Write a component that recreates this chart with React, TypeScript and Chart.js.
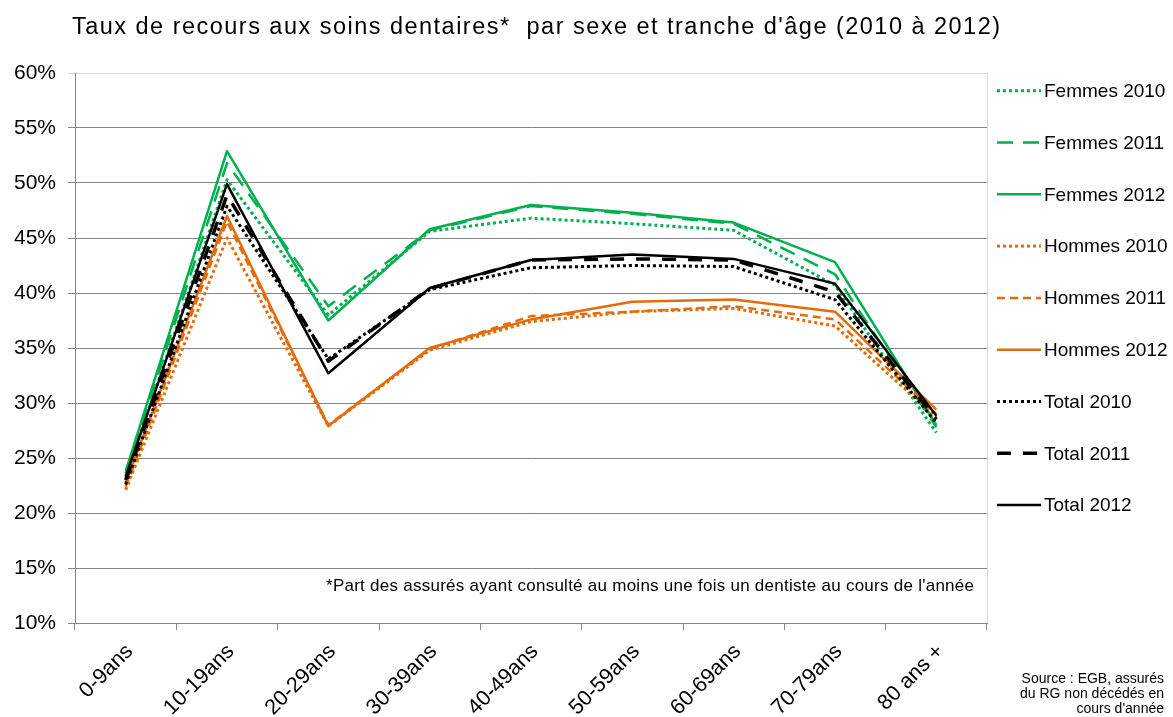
import React, { useEffect, useRef } from 'react';
import { Chart, registerables } from 'chart.js';

Chart.register(...registerables);

const categories = ['0-9ans', '10-19ans', '20-29ans', '30-39ans', '40-49ans', '50-59ans', '60-69ans', '70-79ans', '80 ans +'];

const femmes2010 = [23.3, 50.3, 38.0, 45.6, 46.8, 46.3, 45.7, 40.7, 27.3];
const femmes2011 = [23.6, 51.8, 38.8, 45.7, 47.9, 47.2, 46.3, 41.7, 27.8];
const femmes2012 = [23.8, 52.9, 37.5, 45.8, 48.0, 47.3, 46.4, 42.8, 28.0];
const hommes2010 = [22.1, 45.0, 27.9, 34.8, 37.4, 38.3, 38.6, 37.0, 28.7];
const hommes2011 = [22.4, 46.5, 28.0, 34.9, 37.9, 38.3, 38.8, 37.6, 29.0];
const hommes2012 = [22.8, 47.0, 27.9, 35.0, 37.6, 39.2, 39.4, 38.3, 29.4];
const total2010 = [22.6, 47.9, 34.0, 40.3, 42.3, 42.5, 42.4, 39.4, 28.2];
const total2011 = [23.0, 48.9, 33.8, 40.4, 43.0, 43.1, 43.0, 40.1, 28.5];
const total2012 = [23.3, 49.9, 32.7, 40.45, 43.0, 43.5, 43.1, 40.85, 28.85];

const seriesLabels = ['Femmes 2010', 'Femmes 2011', 'Femmes 2012', 'Hommes 2010', 'Hommes 2011', 'Hommes 2012', 'Total 2010', 'Total 2011', 'Total 2012'];

const titleText = "Taux de recours aux soins dentaires*  par sexe et tranche d'âge (2010 à 2012)";
const footnoteText = "*Part des assurés ayant consulté au moins une fois un dentiste au cours de l'année";
const sourceLines = ['Source : EGB, assurés', 'du RG non décédés en', "cours d'année"];

const GREEN = '#00b050';
const ORANGE = '#e46c0a';
const BLACK = '#000000';
const FONT = '"Liberation Sans", Arial, sans-serif';

const styles = [
  { color: GREEN, dash: [3, 3], width: 3 },
  { color: GREEN, dash: [16, 10], width: 2.5 },
  { color: GREEN, dash: [], width: 2.5 },
  { color: ORANGE, dash: [3, 3], width: 3 },
  { color: ORANGE, dash: [8, 5], width: 2.5 },
  { color: ORANGE, dash: [], width: 2.5 },
  { color: BLACK, dash: [3, 3], width: 3 },
  { color: BLACK, dash: [14, 12], width: 3.5 },
  { color: BLACK, dash: [], width: 2.5 },
];

const seriesData = [femmes2010, femmes2011, femmes2012, hommes2010, hommes2011, hommes2012, total2010, total2011, total2012];

function fitText(ctx: any, text: string, x0: number, x1: number, y: number) {
  ctx.letterSpacing = '0px';
  const w = ctx.measureText(text).width;
  const n = Array.from(text).length;
  const sp = Math.max(0, (x1 - x0 - w) / (n - 1));
  ctx.letterSpacing = `${sp}px`;
  ctx.textAlign = 'left';
  ctx.fillText(text, x0, y);
  ctx.letterSpacing = '0px';
}

const decorPlugin = {
  id: 'decor',
  afterDraw(chart: any) {
    const ctx = chart.ctx;
    const ca = chart.chartArea;
    ctx.save();
    // right border
    ctx.strokeStyle = '#d9d9d9';
    ctx.lineWidth = 1;
    ctx.beginPath();
    ctx.moveTo(Math.round(ca.right) + 0.5, ca.top);
    ctx.lineTo(Math.round(ca.right) + 0.5, ca.bottom);
    ctx.stroke();

    // title
    ctx.fillStyle = '#000';
    ctx.font = `23.5px ${FONT}`;
    ctx.textBaseline = 'alphabetic';
    fitText(ctx, titleText, 72, 1000, 34);

    // footnote
    ctx.font = `17px ${FONT}`;
    fitText(ctx, footnoteText, 326, 974, 591);

    // source
    ctx.font = `14px "Liberation Sans Narrow", ${FONT}`;
    ctx.textAlign = 'right';
    ctx.textBaseline = 'middle';
    sourceLines.forEach((l, i) => ctx.fillText(l, 1164, 679 + i * 15));

    // legend
    ctx.font = `19px ${FONT}`;
    ctx.textAlign = 'left';
    ctx.textBaseline = 'middle';
    seriesLabels.forEach((lab, i) => {
      const y = 90.7 + i * 51.8;
      const st = styles[i];
      ctx.strokeStyle = st.color;
      ctx.lineWidth = st.width;
      ctx.setLineDash(st.dash);
      ctx.beginPath();
      ctx.moveTo(997, y);
      ctx.lineTo(1041, y);
      ctx.stroke();
      ctx.setLineDash([]);
      ctx.fillStyle = '#000';
      ctx.fillText(lab, 1044, y + 1);
    });
    ctx.restore();
  },
};

export default function App() {
  const ref = useRef<HTMLCanvasElement>(null);
  useEffect(() => {
    if (!ref.current) return;
    const chart = new Chart(ref.current, {
      type: 'line',
      data: {
        labels: categories,
        datasets: seriesData.map((d, i) => ({
          label: seriesLabels[i],
          data: d,
          borderColor: styles[i].color,
          backgroundColor: styles[i].color,
          borderWidth: styles[i].width,
          borderDash: styles[i].dash,
          borderJoinStyle: 'round',
          pointRadius: 0,
          tension: 0,
          fill: false,
          order: 9 - i,
        })),
      },
      options: {
        responsive: false,
        animation: false,
        devicePixelRatio: 1,
        layout: { padding: { top: 73, right: 186, left: 0, bottom: 0 } },
        plugins: {
          legend: { display: false },
          title: { display: false },
          tooltip: { enabled: false },
        },
        scales: {
          x: {
            type: 'category',
            offset: true,
            afterFit: (s: any) => { s.height = 94; },
            grid: {
              offset: true,
              drawOnChartArea: false,
              drawTicks: true,
              tickLength: 7,
              color: '#868686',
            },
            border: { color: '#868686', width: 1 },
            ticks: {
              minRotation: 45,
              maxRotation: 45,
              autoSkip: false,
              color: '#000',
              padding: 9,
              labelOffset: 4,
              font: { family: FONT, size: 21.5 },
            },
          },
          y: {
            min: 10,
            max: 60,
            afterFit: (s: any) => { s.width = 75; },
            ticks: {
              stepSize: 5,
              color: '#000',
              padding: 12,
              font: { family: FONT, size: 21 },
              callback: (v: any) => `${v}%`,
            },
            grid: {
              color: (c: any) => (c.tick && c.tick.value === 60 ? '#d9d9d9' : '#868686'),
              tickLength: 7,
              lineWidth: 1,
            },
            border: { color: '#868686', width: 1 },
          },
        },
      },
      plugins: [decorPlugin],
    });
    return () => chart.destroy();
  }, []);
  return (
    <div style={{ position: 'absolute', left: 0, top: 0, width: 1173, height: 717, background: '#fff' }}>
      <canvas ref={ref} width={1173} height={717} style={{ display: 'block' }} />
    </div>
  );
}
